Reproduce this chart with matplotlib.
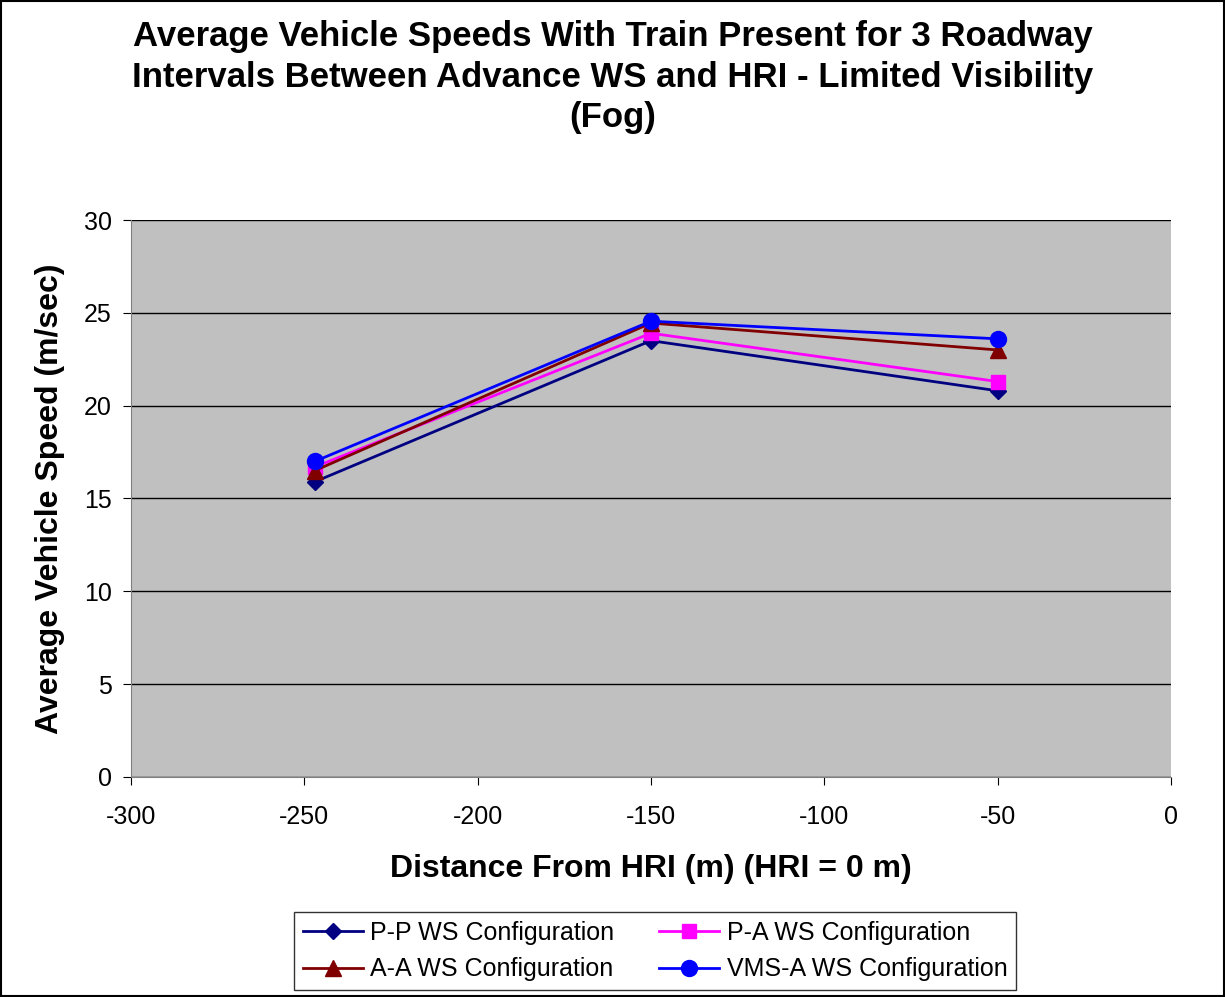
import matplotlib
matplotlib.use("Agg")
import matplotlib.pyplot as plt
from matplotlib.patches import Rectangle

plt.rcParams['font.family'] = ['Liberation Sans', 'DejaVu Sans']
plt.rcParams['axes.unicode_minus'] = False

distance = [-247, -150, -50]
pp = [15.9, 23.5, 20.8]
pa = [16.7, 23.9, 21.3]
aa = [16.5, 24.45, 23.0]
vms = [17.0, 24.55, 23.6]

series_names = ["P-P WS Configuration", "P-A WS Configuration",
                "A-A WS Configuration", "VMS-A WS Configuration"]

fig = plt.figure(figsize=(12.25, 9.97), dpi=100)
ax = fig.add_axes([131/1225, 1 - 777/997, (1171-131)/1225, (777-220)/997])
ax.set_facecolor('#C0C0C0')

styles = [
    (pp, '#000080', 'D', 8),
    (pa, '#FF00FF', 's', 10),
    (aa, '#800000', '^', 11),
    (vms, '#0000FF', 'o', 11.5),
]
handles = []
for (vals, c, m, ms), name in zip(styles, series_names):
    h, = ax.plot(distance, vals, color=c, marker=m, markersize=ms, lw=2,
                 markerfacecolor=c, markeredgecolor=c, label=name, zorder=3)
    handles.append(h)

ax.set_xlim(-300, 0)
ax.set_ylim(0, 30)
ax.set_xticks(range(-300, 1, 50))
ax.set_yticks(range(0, 31, 5))
ax.yaxis.grid(True, color='black', lw=1)
ax.set_axisbelow(True)
for s in ['top', 'right']:
    ax.spines[s].set_visible(False)
ax.spines['left'].set_color('#808080')
ax.spines['bottom'].set_color('#808080')
ax.tick_params(axis='both', labelsize=18, direction='out', length=6, color='black')
ax.tick_params(axis='x', pad=14)
ax.tick_params(axis='y', pad=8)

ax.set_xlabel("Distance From HRI (m) (HRI = 0 m)", fontsize=23, fontweight='bold', labelpad=18)
ax.set_ylabel("Average Vehicle Speed (m/sec)", fontsize=23, fontweight='bold', labelpad=13)

fig.text(613/1225, 1 - 77/997,
         "Average Vehicle Speeds With Train Present for 3 Roadway\n"
         "Intervals Between Advance WS and HRI - Limited Visibility\n(Fog)",
         ha='center', va='center', fontsize=25, fontweight='bold', linespacing=1.3)

order = [handles[0], handles[2], handles[1], handles[3]]
leg = fig.legend(order, [h.get_label() for h in order], ncol=2,
                 loc='center', bbox_to_anchor=(655/1225, 1 - 951/997),
                 fontsize=18, frameon=True, fancybox=False, edgecolor='black',
                 handlelength=2.4, handletextpad=0.3, columnspacing=1.8,
                 borderpad=0.35, labelspacing=0.5)
leg.get_frame().set_linewidth(1)

fig.add_artist(Rectangle((0.001, 0.001), 0.998, 0.998, transform=fig.transFigure,
                         fill=False, edgecolor='black', lw=1.5))

fig.savefig("out.png", dpi=100)
